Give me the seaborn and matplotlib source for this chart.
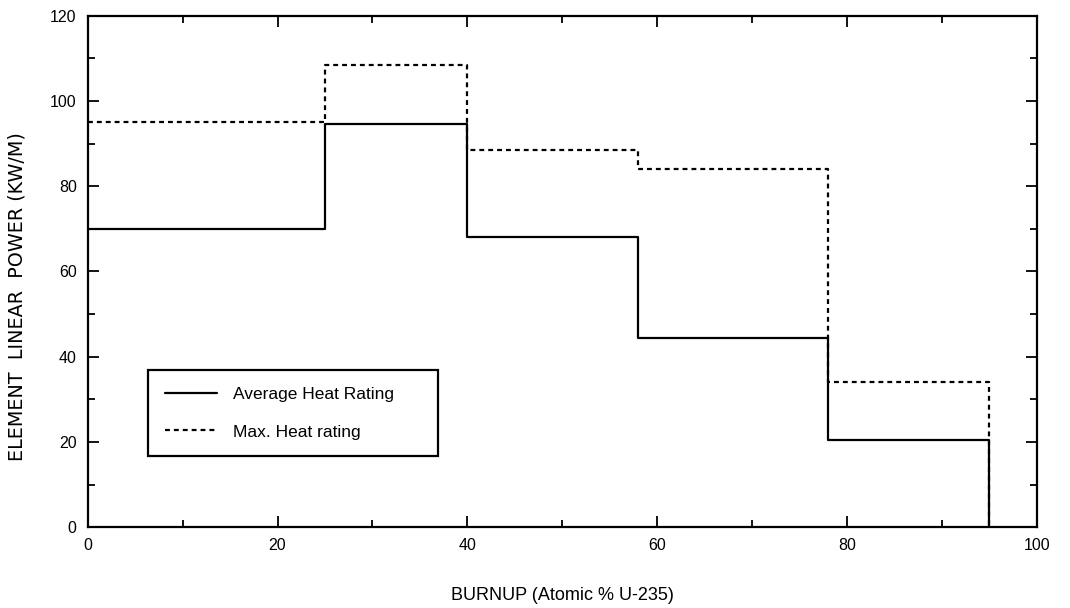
import matplotlib
matplotlib.use("Agg")
import matplotlib.pyplot as plt
from matplotlib.ticker import MultipleLocator
import seaborn as sns
import pandas as pd

burnup_edges = [0, 25, 40, 58, 78, 95]
avg_heat = [70, 94.5, 68, 44.5, 20.5, 0]
max_heat = [95, 108.5, 88.5, 84, 34, 0]
x_ticks = [0, 20, 40, 60, 80, 100]
y_ticks = [0, 20, 40, 60, 80, 100, 120]

sns.set_theme(style="ticks")
plt.rcParams['font.family'] = ['Liberation Sans', 'DejaVu Sans']
plt.rcParams['text.color'] = 'black'

df_avg = pd.DataFrame({"burnup": burnup_edges, "power": avg_heat})
df_max = pd.DataFrame({"burnup": burnup_edges, "power": max_heat})

fig = plt.figure(figsize=(10.7, 6.08), dpi=100)
ax = fig.add_axes([0.082, 0.133, 0.887, 0.841])

sns.lineplot(data=df_max, x="burnup", y="power", ax=ax, color="black",
             linewidth=1.6, linestyle=(0, (2.2, 1.8)), drawstyle="steps-post",
             label="Max. Heat rating", estimator=None, sort=False)
sns.lineplot(data=df_avg, x="burnup", y="power", ax=ax, color="black",
             linewidth=1.6, drawstyle="steps-post",
             label="Average Heat Rating", estimator=None, sort=False)

ax.set_xlim(0, 100)
ax.set_ylim(0, 120)
ax.set_xticks(x_ticks)
ax.set_yticks(y_ticks)
ax.xaxis.set_minor_locator(MultipleLocator(10))
ax.yaxis.set_minor_locator(MultipleLocator(10))
ax.tick_params(which="both", direction="in", top=True, right=True,
               color="black", width=1.3, labelsize=11.5, labelcolor="black")
ax.tick_params(which="major", length=8, pad=8)
ax.tick_params(which="minor", length=5)
for s in ax.spines.values():
    s.set_color("black")
    s.set_linewidth(1.6)

ax.set_xlabel("BURNUP (Atomic % U-235)", fontsize=13, labelpad=24, color="black")
ax.set_ylabel("ELEMENT  LINEAR  POWER (KW/M)", fontsize=13.8, color="black",
              family=["DejaVu Sans"])
ax.yaxis.set_label_coords(-0.064, 0.45)

handles, labels = ax.get_legend_handles_labels()
order = [labels.index("Average Heat Rating"), labels.index("Max. Heat rating")]
leg = ax.legend([handles[i] for i in order], [labels[i] for i in order],
                loc="lower left", bbox_to_anchor=(0.064, 0.139, 0.305, 0.172),
                mode="expand", frameon=True, fancybox=False, fontsize=12.5,
                handlelength=3.0, handletextpad=0.9, borderpad=0.95,
                labelspacing=1.3, borderaxespad=0, labelcolor="black")
leg.get_frame().set_edgecolor("black")
leg.get_frame().set_linewidth(1.6)
leg.get_frame().set_alpha(1)

fig.savefig("out.png", dpi=100)
